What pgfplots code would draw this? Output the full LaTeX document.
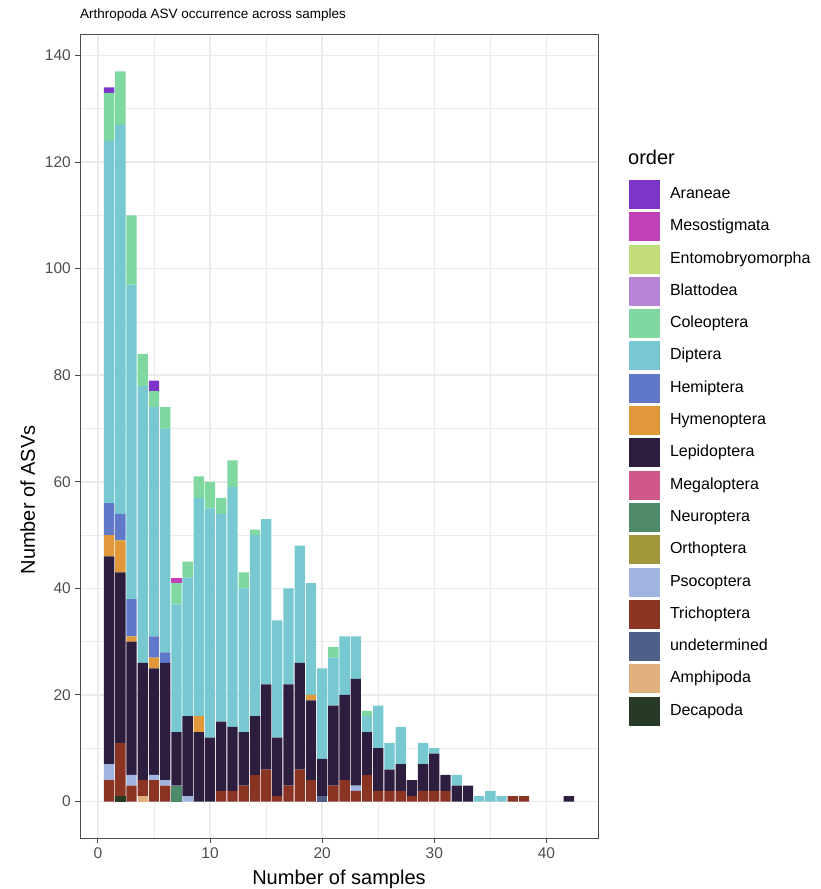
\documentclass[border=0pt]{standalone}
\usepackage{fontspec}
\setmainfont{Liberation Sans}
\usepackage{pgfplots}
\usepackage{pgfplotstable}
\pgfplotsset{compat=1.18}

\definecolor{cAra}{HTML}{7B35C8}
\definecolor{cMes}{HTML}{C040B8}
\definecolor{cEnt}{HTML}{C2DC78}
\definecolor{cBla}{HTML}{B884D8}
\definecolor{cCol}{HTML}{7FD8A0}
\definecolor{cDip}{HTML}{78C8D2}
\definecolor{cHem}{HTML}{6078C8}
\definecolor{cHym}{HTML}{E09838}
\definecolor{cLep}{HTML}{2D1E40}
\definecolor{cMeg}{HTML}{D05888}
\definecolor{cNeu}{HTML}{4E8A6A}
\definecolor{cOrt}{HTML}{A09838}
\definecolor{cPso}{HTML}{A0B4E0}
\definecolor{cTri}{HTML}{8B3424}
\definecolor{cUnd}{HTML}{4E6088}
\definecolor{cAmp}{HTML}{E0B07C}
\definecolor{cDec}{HTML}{263A26}
\definecolor{gridgray}{HTML}{EBEBEB}
\definecolor{framegray}{HTML}{4D4D4D}
\definecolor{ticktext}{HTML}{4D4D4D}

\pgfplotsset{sqkey/.style={legend image code/.code={\fill[##1] (0pt,-14.5pt) rectangle (31pt,14.5pt);}}}

% x = number of samples; columns = ASV counts per order
\pgfplotstableread{
x  Dec Amp Und Tri Pso Ort Neu Meg Lep Hym Hem Dip Col Bla Ent Mes Ara
1  0   0   0   4   3   0   0   0   39  4   6   68  9   0   0   0   1
2  1   0   0   10  0   0   0   0   32  6   5   73  10  0   0   0   0
3  0   0   0   3   2   0   0   0   25  1   7   59  13  0   0   0   0
4  0   1   0   3   0   0   0   0   22  0   0   52  6   0   0   0   0
5  0   0   0   4   1   0   0   0   20  2   4   43  3   0   0   0   2
6  0   0   0   3   1   0   0   0   22  0   2   42  4   0   0   0   0
7  0   0   0   0   0   0   3   0   10  0   0   24  4   0   0   1   0
8  0   0   0   0   1   0   0   0   15  0   0   26  3   0   0   0   0
9  0   0   0   0   0   0   0   0   13  3   0   41  4   0   0   0   0
10 0   0   0   0   0   0   0   0   12  0   0   43  5   0   0   0   0
11 0   0   0   2   0   0   0   0   13  0   0   39  3   0   0   0   0
12 0   0   0   2   0   0   0   0   12  0   0   45  5   0   0   0   0
13 0   0   0   3   0   0   0   0   10  0   0   27  3   0   0   0   0
14 0   0   0   5   0   0   0   0   11  0   0   34  1   0   0   0   0
15 0   0   0   6   0   0   0   0   16  0   0   31  0   0   0   0   0
16 0   0   0   1   0   0   0   0   11  0   0   22  0   0   0   0   0
17 0   0   0   3   0   0   0   0   19  0   0   18  0   0   0   0   0
18 0   0   0   6   0   0   0   0   20  0   0   22  0   0   0   0   0
19 0   0   0   4   0   0   0   0   15  1   0   21  0   0   0   0   0
20 0   0   1   0   0   0   0   0   7   0   0   17  0   0   0   0   0
21 0   0   0   3   0   0   0   0   15  0   0   9   2   0   0   0   0
22 0   0   0   4   0   0   0   0   16  0   0   11  0   0   0   0   0
23 0   0   0   2   1   0   0   0   20  0   0   8   0   0   0   0   0
24 0   0   0   5   0   0   0   0   8   0   0   3   1   0   0   0   0
25 0   0   0   2   0   0   0   0   8   0   0   8   0   0   0   0   0
26 0   0   0   2   0   0   0   0   4   0   0   5   0   0   0   0   0
27 0   0   0   2   0   0   0   0   5   0   0   7   0   0   0   0   0
28 0   0   0   1   0   0   0   0   3   0   0   0   0   0   0   0   0
29 0   0   0   2   0   0   0   0   5   0   0   4   0   0   0   0   0
30 0   0   0   2   0   0   0   0   7   0   0   1   0   0   0   0   0
31 0   0   0   2   0   0   0   0   3   0   0   0   0   0   0   0   0
32 0   0   0   0   0   0   0   0   3   0   0   2   0   0   0   0   0
33 0   0   0   0   0   0   0   0   3   0   0   0   0   0   0   0   0
34 0   0   0   0   0   0   0   0   0   0   0   1   0   0   0   0   0
35 0   0   0   0   0   0   0   0   0   0   0   2   0   0   0   0   0
36 0   0   0   0   0   0   0   0   0   0   0   1   0   0   0   0   0
37 0   0   0   1   0   0   0   0   0   0   0   0   0   0   0   0   0
38 0   0   0   1   0   0   0   0   0   0   0   0   0   0   0   0   0
39 0   0   0   0   0   0   0   0   0   0   0   0   0   0   0   0   0
40 0   0   0   0   0   0   0   0   0   0   0   0   0   0   0   0   0
41 0   0   0   0   0   0   0   0   0   0   0   0   0   0   0   0   0
42 0   0   0   0   0   0   0   0   1   0   0   0   0   0   0   0   0
}\asvdata

\begin{document}
\begin{tikzpicture}[x=1pt,y=1pt]
\path (0,0) rectangle (820,889);
\begin{axis}[
  at={(80pt,51pt)}, anchor=south west,
  scale only axis, width=518pt, height=803pt,
  xmin=-1.6, xmax=44.6, ymin=-6.85, ymax=143.85,
  ybar stacked, bar width=0.92,
  xtick={0,10,20,30,40}, ytick={0,20,...,140},
  minor x tick num=1, minor y tick num=1,
  grid=both,
  major grid style={draw=gridgray, line width=1.6pt},
  minor grid style={draw=gridgray, line width=0.8pt},
  minor tick length=0pt, major tick length=5pt,
  tick align=outside, xtick pos=bottom, ytick pos=left,
  tick style={draw=framegray, line width=1pt},
  axis line style={draw=framegray, line width=1pt},
  /pgf/number format/assume math mode=true,
  ticklabel style={font=\fontsize{15.5}{18}\selectfont, text=ticktext},
  xticklabel style={inner sep=0pt, yshift=-4pt},
  yticklabel style={inner sep=0pt, xshift=-4pt},
  title={Arthropoda ASV occurrence across samples},
  title style={at={(axis description cs:0,1.0135)}, anchor=base west, inner sep=0pt, font=\fontsize{13.5}{16}\selectfont},
  xlabel={Number of samples},
  xlabel style={at={(axis description cs:0.5,-0.0573)}, anchor=base, inner sep=0pt, font=\fontsize{20}{24}\selectfont},
  ylabel={Number of ASVs},
  ylabel style={at={(axis description cs:-0.0869,0.421)}, anchor=base, inner sep=0pt, font=\fontsize{20}{24}\selectfont},
  reverse legend,
  legend style={at={(axis description cs:1.05985,0.81943)}, anchor=north west,
    draw=none, fill=none, inner sep=0pt, outer sep=0pt,
    row sep=3.3pt, column sep=10pt,
    font=\fontsize{16}{19}\selectfont,
    cells={anchor=west},
    nodes={inner sep=0pt, text height=11.5pt, text depth=3.5pt}},
]
\addplot[sqkey, fill=cDec, draw=none] table[x=x, y=Dec] {\asvdata}; \addlegendentry{Decapoda}
\addplot[sqkey, fill=cAmp, draw=none] table[x=x, y=Amp] {\asvdata}; \addlegendentry{Amphipoda}
\addplot[sqkey, fill=cUnd, draw=none] table[x=x, y=Und] {\asvdata}; \addlegendentry{undetermined}
\addplot[sqkey, fill=cTri, draw=none] table[x=x, y=Tri] {\asvdata}; \addlegendentry{Trichoptera}
\addplot[sqkey, fill=cPso, draw=none] table[x=x, y=Pso] {\asvdata}; \addlegendentry{Psocoptera}
\addplot[sqkey, fill=cOrt, draw=none] table[x=x, y=Ort] {\asvdata}; \addlegendentry{Orthoptera}
\addplot[sqkey, fill=cNeu, draw=none] table[x=x, y=Neu] {\asvdata}; \addlegendentry{Neuroptera}
\addplot[sqkey, fill=cMeg, draw=none] table[x=x, y=Meg] {\asvdata}; \addlegendentry{Megaloptera}
\addplot[sqkey, fill=cLep, draw=none] table[x=x, y=Lep] {\asvdata}; \addlegendentry{Lepidoptera}
\addplot[sqkey, fill=cHym, draw=none] table[x=x, y=Hym] {\asvdata}; \addlegendentry{Hymenoptera}
\addplot[sqkey, fill=cHem, draw=none] table[x=x, y=Hem] {\asvdata}; \addlegendentry{Hemiptera}
\addplot[sqkey, fill=cDip, draw=none] table[x=x, y=Dip] {\asvdata}; \addlegendentry{Diptera}
\addplot[sqkey, fill=cCol, draw=none] table[x=x, y=Col] {\asvdata}; \addlegendentry{Coleoptera}
\addplot[sqkey, fill=cBla, draw=none] table[x=x, y=Bla] {\asvdata}; \addlegendentry{Blattodea}
\addplot[sqkey, fill=cEnt, draw=none] table[x=x, y=Ent] {\asvdata}; \addlegendentry{Entomobryomorpha}
\addplot[sqkey, fill=cMes, draw=none] table[x=x, y=Mes] {\asvdata}; \addlegendentry{Mesostigmata}
\addplot[sqkey, fill=cAra, draw=none] table[x=x, y=Ara] {\asvdata}; \addlegendentry{Araneae}
\end{axis}
\node[anchor=base west, inner sep=0pt, font=\fontsize{20}{24}\selectfont] at (628,724) {order};
\end{tikzpicture}
\end{document}
